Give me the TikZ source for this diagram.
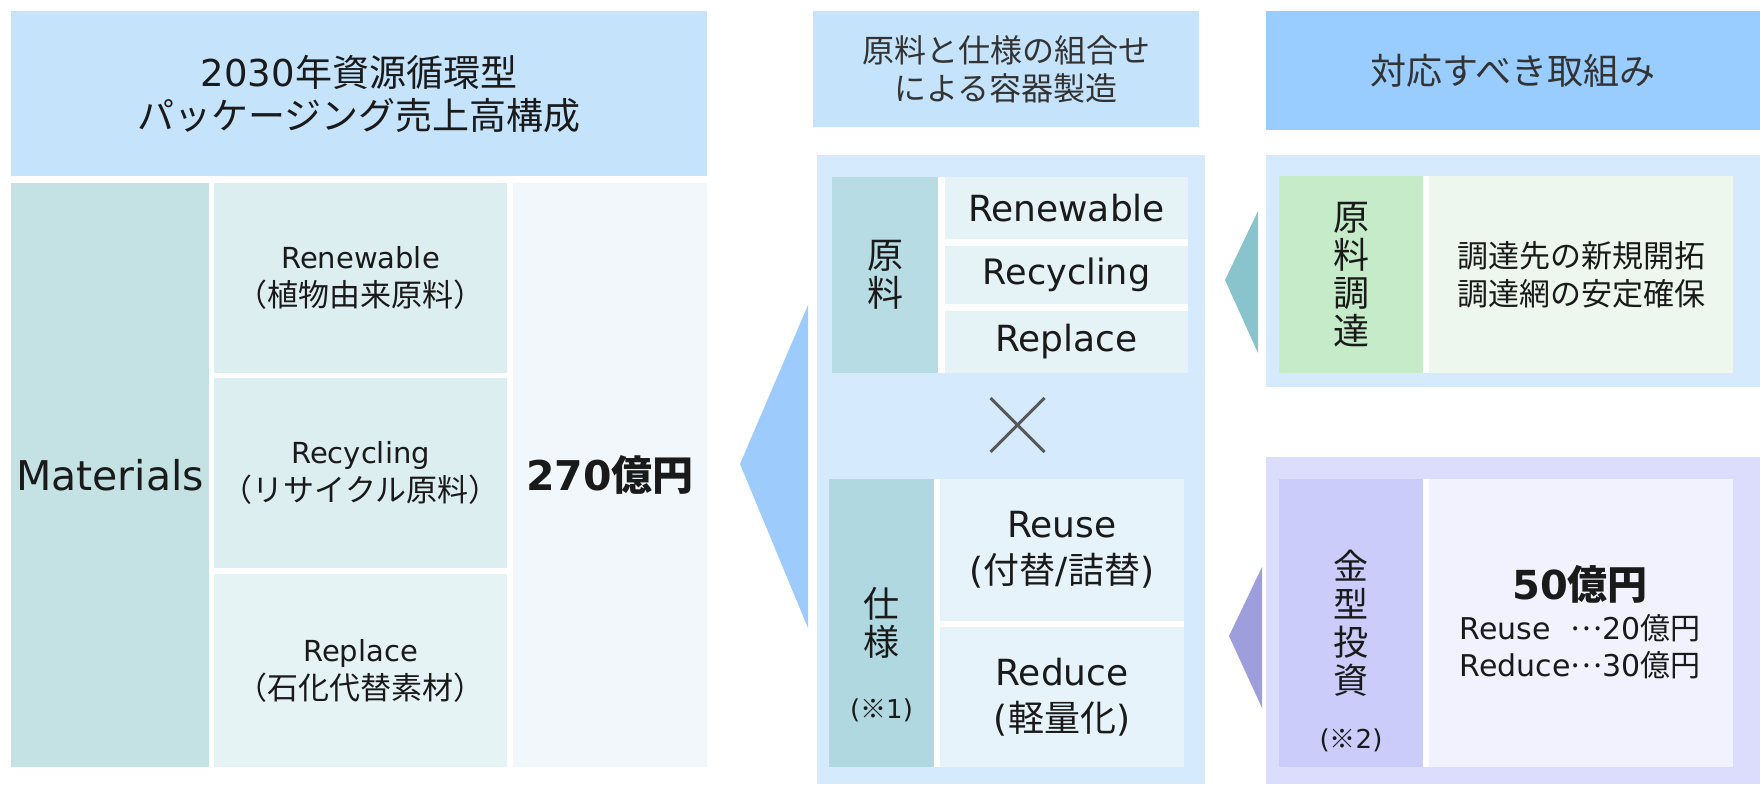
\documentclass[tikz,border=0pt]{standalone}
\usepackage{fontspec}
\usepackage{calc}
\usetikzlibrary{calc}
\setmainfont{DejaVu Sans}
\newfontfamily\jp{Noto Sans CJK JP}
\newcommand{\jtext}[1]{{\jp #1}}
\newcommand{\jsub}[1]{{\jp\fontsize{31}{38}\selectfont #1}}
\newcommand{\mdots}{\raisebox{0.3em}{\jtext{…}}}
\definecolor{hdrA}{HTML}{C5E4FC}
\definecolor{matC}{HTML}{C4E2E4}
\definecolor{cellA}{HTML}{DCEEEF}
\definecolor{cellB}{HTML}{E6F3F5}
\definecolor{totC}{HTML}{F1F7FA}
\definecolor{contC}{HTML}{D5EAFD}
\definecolor{genC}{HTML}{B7DCE3}
\definecolor{shiyoC}{HTML}{B0D8E0}
\definecolor{mcellA}{HTML}{E6F3F6}
\definecolor{mcellB}{HTML}{E6F3FA}
\definecolor{arrBlue}{HTML}{9DCBFC}
\definecolor{rhdrC}{HTML}{99CCFF}
\definecolor{greenC}{HTML}{C5EBC9}
\definecolor{lgreenC}{HTML}{EDF7EE}
\definecolor{tealC}{HTML}{89C4CC}
\definecolor{lavC}{HTML}{DCDCFC}
\definecolor{purpC}{HTML}{CCCCFA}
\definecolor{lpurpC}{HTML}{F2F2FE}
\definecolor{triP}{HTML}{9E9EDC}
\definecolor{txt}{HTML}{1A1A1A}
\definecolor{crossC}{HTML}{595959}
\begin{document}
\begin{tikzpicture}[x=1pt,y=-1pt,
  box/.style={inner sep=0pt, outer sep=0pt, anchor=north west, align=center, text=txt},
  lbl/.style={inner sep=0pt, outer sep=0pt, align=center, text=txt},
  hfont/.style={font=\fontsize{37}{43}\selectfont},
  lcell/.style={font=\fontsize{29}{38}\selectfont},
  vfont/.style={font=\jp\fontsize{36}{37.5}\selectfont},
  mfont/.style={font=\fontsize{36}{46}\selectfont},
  crossline/.style={draw=crossC, line width=3pt}
]
\useasboundingbox (0,0) rectangle (1760,784);
% ---------- left section ----------
\node[box, fill=hdrA, minimum width=696pt, minimum height=165pt, hfont] (lhead) at (11,11)
  {2030\jtext{年資源循環型}\\\jtext{パッケージング売上高構成}};
\node[box, fill=matC, minimum width=198pt, minimum height=584pt, font=\fontsize{41}{48}\selectfont] (mat) at (11,183) {Materials};
\node[box, fill=cellA, minimum width=293pt, minimum height=190pt, lcell] (ren) at (214,183) {Renewable\\\jsub{（植物由来原料）}};
\node[box, fill=cellA, minimum width=293pt, minimum height=190pt, lcell] (rec) at (214,378) {Recycling\\\jsub{（リサイクル原料）}};
\node[box, fill=cellB, minimum width=293pt, minimum height=193pt, lcell] (rep) at (214,574) {Replace\\\jsub{（石化代替素材）}};
\node[box, fill=totC, minimum width=194pt, minimum height=584pt, font=\bfseries\fontsize{41}{48}\selectfont] (tot) at (513,183) {270\jtext{億円}};
% ---------- middle section ----------
\node[box, fill=hdrA, minimum width=386pt, minimum height=116pt, font=\jp\fontsize{32}{38}\selectfont, text=black!80] (mhead) at (813,11)
  {原料と仕様の組合せ\\による容器製造};
\node[box, fill=contC, minimum width=388pt, minimum height=629pt] (mcont) at (817,155) {};
\fill[arrBlue] (808,305) -- (740,464) -- (808,628) -- cycle;
\node[box, fill=white, minimum width=356pt, minimum height=196pt] (blk1) at (832,177) {};
\node[box, fill=genC, minimum width=106pt, minimum height=196pt, vfont] (gen) at (832,177) {原\\料};
\node[box, fill=mcellA, minimum width=243pt, minimum height=62pt, font=\fontsize{36}{40}\selectfont] (c1) at (945,177) {Renewable};
\node[box, fill=mcellA, minimum width=243pt, minimum height=58pt, font=\fontsize{35}{40}\selectfont] (c2) at (945,246) {Recycling};
\node[box, fill=mcellA, minimum width=243pt, minimum height=62pt, font=\fontsize{36}{40}\selectfont] (c3) at (945,311) {Replace};
\coordinate (xc) at (1017.5,425);
\draw[crossline] ($(xc)+(-27,-27)$) -- ($(xc)+(27,27)$);
\draw[crossline] ($(xc)+(-27,27)$) -- ($(xc)+(27,-27)$);
\node[box, fill=white, minimum width=355pt, minimum height=288pt] (blk2) at (829,479) {};
\node[box, fill=shiyoC, minimum width=105pt, minimum height=288pt, vfont] (shiyo) at (829,479) {仕\\様};
\node[lbl, font=\fontsize{26}{30}\selectfont] (note1) at (881.5,710) {(\jtext{※}1)};
\node[box, fill=mcellB, minimum width=244pt, minimum height=142pt, mfont] (reuse) at (940,479) {Reuse\\(\jtext{付替}/\jtext{詰替})};
\node[box, fill=mcellB, minimum width=244pt, minimum height=140pt, mfont] (reduce) at (940,627) {Reduce\\(\jtext{軽量化})};
% ---------- right section ----------
\node[box, fill=rhdrC, minimum width=494pt, minimum height=119pt, font=\jp\fontsize{36}{42}\selectfont, text=black!80] (rhead) at (1266,11) {対応すべき取組み};
\node[box, fill=contC, minimum width=494pt, minimum height=232pt] (rc1) at (1266,155) {};
\fill[tealC] (1258,211) -- (1225,280) -- (1258,353) -- cycle;
\node[box, fill=white, minimum width=454pt, minimum height=197pt] (rb1) at (1279,176) {};
\node[box, fill=greenC, minimum width=144pt, minimum height=197pt, font=\jp\fontsize{36}{38}\selectfont] (chot) at (1279,176) {原\\料\\調\\達};
\node[box, fill=lgreenC, minimum width=304pt, minimum height=197pt, font=\jp\fontsize{31}{38}\selectfont] (chtext) at (1429,176) {調達先の新規開拓\\調達網の安定確保};
\node[box, fill=lavC, minimum width=494pt, minimum height=327pt] (rc2) at (1266,457) {};
\fill[triP] (1262,567) -- (1229,636) -- (1262,708) -- cycle;
\node[box, fill=white, minimum width=454pt, minimum height=288pt] (rb2) at (1279,479) {};
\node[box, fill=purpC, minimum width=144pt, minimum height=288pt, font=\jp\fontsize{35}{38}\selectfont] (kana) at (1279,479) {金\\型\\投\\資};
\node[lbl, font=\fontsize{26}{30}\selectfont] (note2) at (1351,740) {(\jtext{※}2)};
\node[box, fill=lpurpC, minimum width=304pt, minimum height=288pt] (kantext) at (1429,479) {};
\node[lbl, font=\bfseries\fontsize{40}{46}\selectfont] (amt) at (1580,584) {50\jtext{億円}};
\node[lbl, align=left, font=\fontsize{30}{37}\selectfont] (brk) at (1580,647)
  {\makebox[\widthof{Reduce}][l]{Reuse}\mdots20\jtext{億円}\\Reduce\mdots30\jtext{億円}};
\end{tikzpicture}
\end{document}
